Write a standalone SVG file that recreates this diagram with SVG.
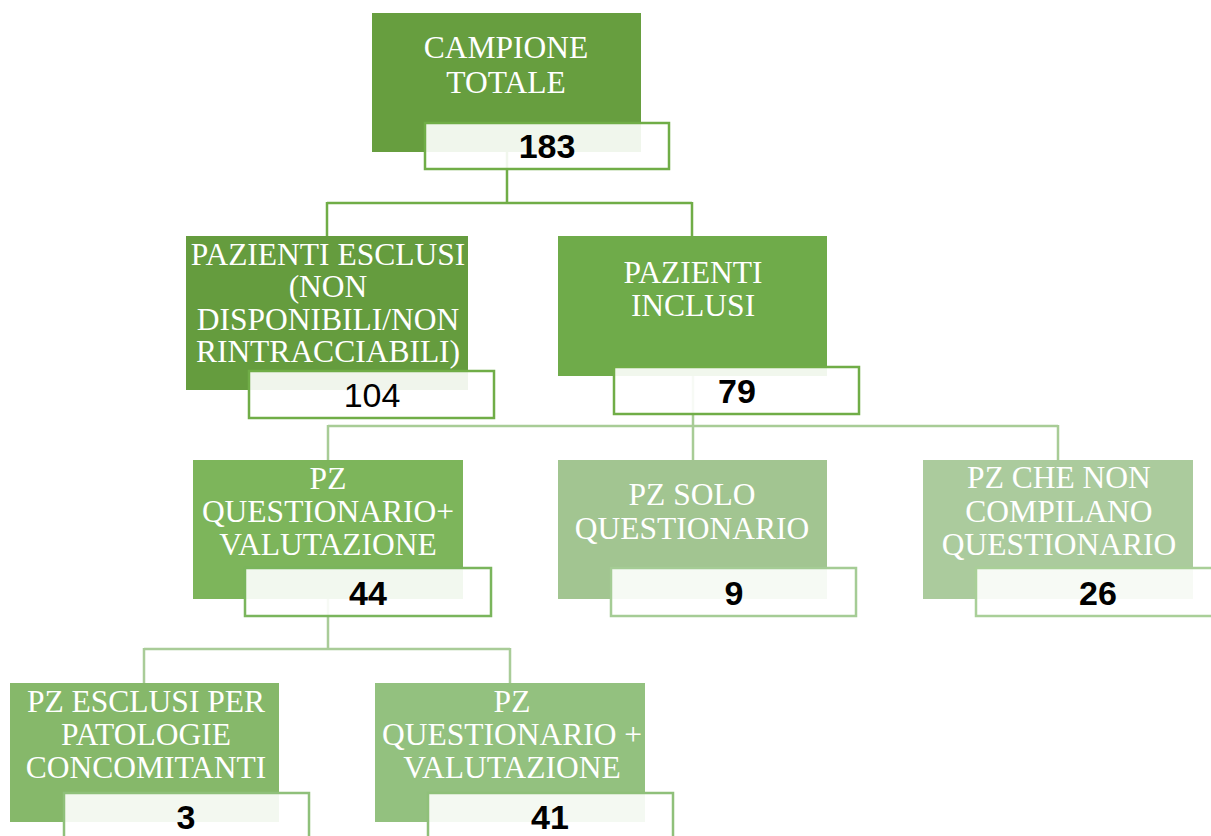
<svg xmlns="http://www.w3.org/2000/svg" width="1211" height="836" viewBox="0 0 1211 836">
<style>
.t{font-family:"Liberation Serif","Times New Roman",serif;font-size:31.5px;fill:#ffffff;text-anchor:middle}
.n{font-family:"Liberation Sans",Arial,sans-serif;font-size:34px;font-weight:bold;fill:#000000;text-anchor:middle}
.nr{font-weight:normal}
.nb{fill:#ffffff;fill-opacity:0.9;stroke-width:2.5}
.c{fill:none;stroke-width:2.5}
</style>
<rect width="1211" height="836" fill="#ffffff"/>
<g id="connectors">
<path class="c" stroke="#70ad47" d="M507 152 V203 M327 203 H692 M327 202 V237 M692 202 V237"/>
<path class="c" stroke="#a8cc96" d="M693 376 V426 M328 426 H1058 M328 425 V460 M693 425 V460 M1058 425 V460"/>
<path class="c" stroke="#a9cc98" d="M328 599 V649 M144 649 H510 M144 648 V683 M510 648 V683"/>
</g>
<g id="campione-totale">
<rect x="372" y="13" width="269" height="139" fill="#679e3f"/>
<text class="t" x="506" y="58">CAMPIONE</text>
<text class="t" x="506" y="93">TOTALE</text>
<rect class="nb" x="425" y="123" width="244" height="46" stroke="#70ad47"/>
<text class="n" x="547" y="158">183</text>
</g>
<g id="pazienti-esclusi">
<rect x="186" y="236" width="282" height="154" fill="#659c3e"/>
<text class="t" x="328" y="265">PAZIENTI ESCLUSI</text>
<text class="t" x="328" y="297">(NON</text>
<text class="t" x="328" y="330">DISPONIBILI/NON</text>
<text class="t" x="328" y="362">RINTRACCIABILI)</text>
<rect class="nb" x="249" y="371" width="245" height="47" stroke="#70ad47"/>
<text class="n nr" x="372" y="407">104</text>
</g>
<g id="pazienti-inclusi">
<rect x="558" y="236" width="269" height="140" fill="#6fab4a"/>
<text class="t" x="693" y="283">PAZIENTI</text>
<text class="t" x="693" y="316">INCLUSI</text>
<rect class="nb" x="614" y="367" width="245" height="47" stroke="#70ad47"/>
<text class="n" x="737" y="403">79</text>
</g>
<g id="pz-questionario-valutazione">
<rect x="193" y="460" width="270" height="139" fill="#7db55b"/>
<text class="t" x="328" y="489">PZ</text>
<text class="t" x="328" y="522">QUESTIONARIO+</text>
<text class="t" x="328" y="555">VALUTAZIONE</text>
<rect class="nb" x="245" y="568" width="246" height="48" stroke="#7ab55c"/>
<text class="n" x="368" y="605">44</text>
</g>
<g id="pz-solo-questionario">
<rect x="558" y="460" width="269" height="139" fill="#a2c591"/>
<text class="t" x="692" y="505">PZ SOLO</text>
<text class="t" x="692" y="539">QUESTIONARIO</text>
<rect class="nb" x="611" y="568" width="245" height="48" stroke="#a5cc95"/>
<text class="n" x="734" y="605">9</text>
</g>
<g id="pz-che-non-compilano">
<rect x="923" y="460" width="270" height="139" fill="#abcb9d"/>
<text class="t" x="1059" y="488">PZ CHE NON</text>
<text class="t" x="1059" y="522">COMPILANO</text>
<text class="t" x="1059" y="555">QUESTIONARIO</text>
<rect class="nb" x="976" y="568" width="245" height="48" stroke="#a9cf98"/>
<text class="n" x="1098" y="605">26</text>
</g>
<g id="pz-esclusi-patologie">
<rect x="10" y="683" width="269" height="139" fill="#86b86a"/>
<text class="t" x="146" y="712">PZ ESCLUSI PER</text>
<text class="t" x="146" y="745">PATOLOGIE</text>
<text class="t" x="146" y="778">CONCOMITANTI</text>
<rect class="nb" x="64" y="793" width="245" height="48" stroke="#8fc07a"/>
<text class="n" x="186" y="829">3</text>
</g>
<g id="pz-questionario-valutazione-2">
<rect x="375" y="683" width="270" height="139" fill="#93c17f"/>
<text class="t" x="512" y="712">PZ</text>
<text class="t" x="512" y="745">QUESTIONARIO +</text>
<text class="t" x="512" y="778">VALUTAZIONE</text>
<rect class="nb" x="428" y="793" width="245" height="48" stroke="#8fc07a"/>
<text class="n" x="550" y="829">41</text>
</g>
</svg>
